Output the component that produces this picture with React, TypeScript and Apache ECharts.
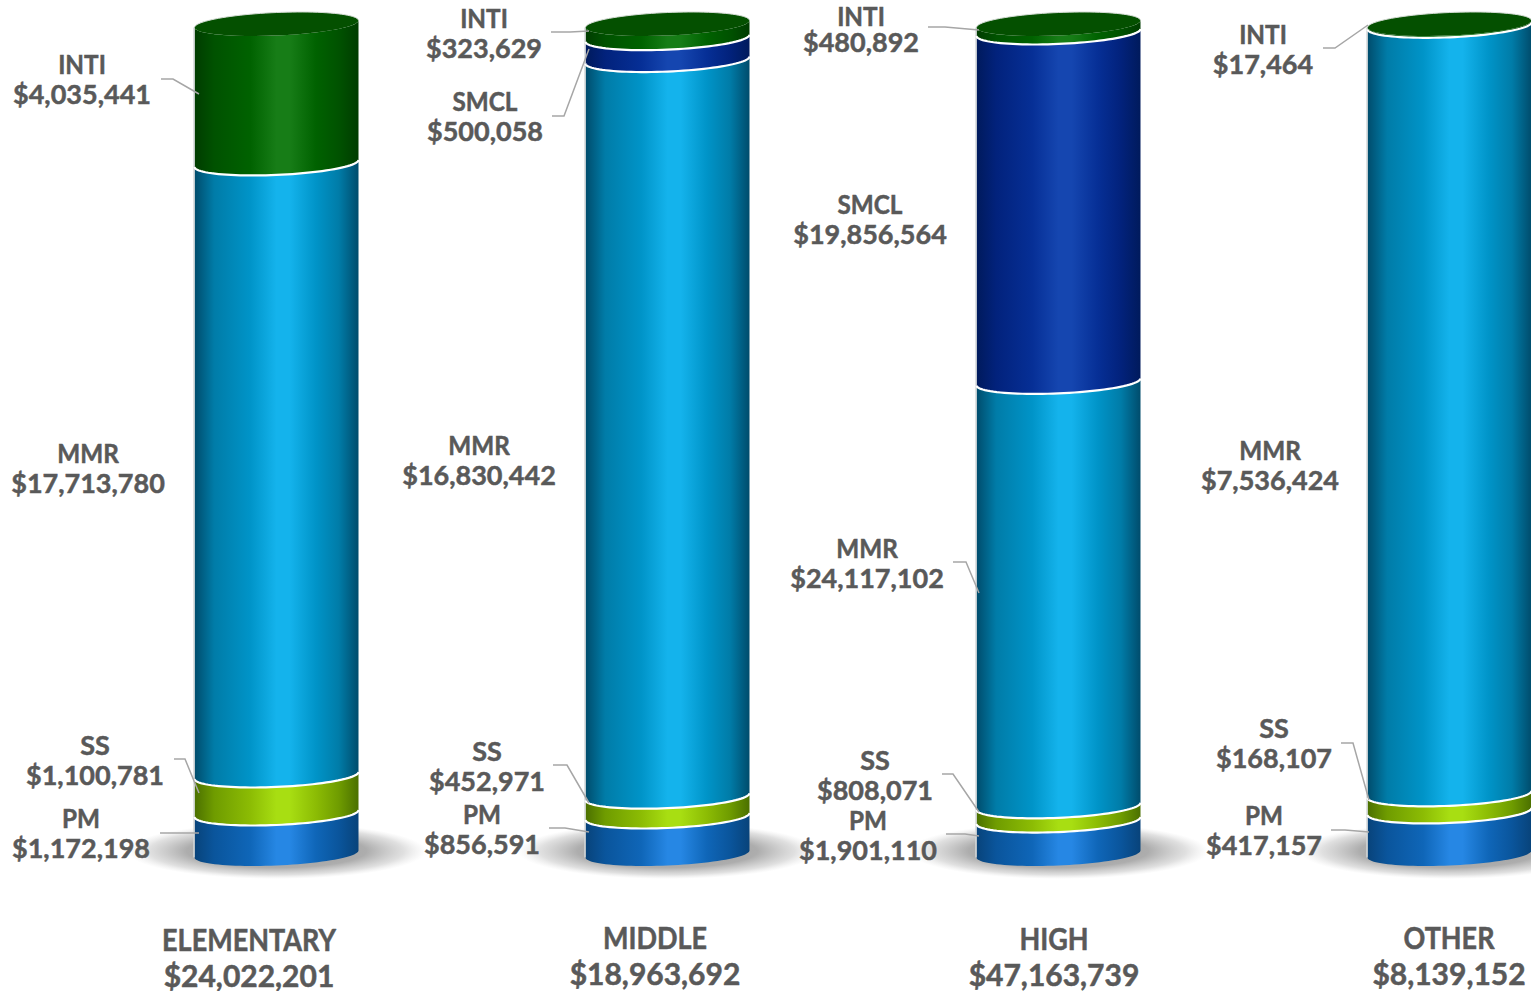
import React, { useEffect, useRef } from "react";
import * as echarts from "echarts";

const categories = ["ELEMENTARY", "MIDDLE", "HIGH", "OTHER"];
const categoryTotals = [24022201, 18963692, 47163739, 8139152];
const stackNames = ["PM", "SS", "MMR", "SMCL", "INTI"];
const pmValues = [1172198, 856591, 1901110, 417157];
const ssValues = [1100781, 452971, 808071, 168107];
const mmrValues = [17713780, 16830442, 24117102, 7536424];
const smclValues = [0, 500058, 19856564, 0];
const intiValues = [4035441, 323629, 480892, 17464];
const stackValues = [pmValues, ssValues, mmrValues, smclValues, intiValues];

// Layout only (no data below)
const W = 1531, H = 991;
const HALF_W = 82, RIM_B = 11.5, RIM_TILT = 3.5;
const FONT = 'Lato, "Liberation Sans", Arial, sans-serif';
const TEXT_COLOR = "#595959";
const LEADER_COLOR = "#a6a6a6";
const PALETTE = [
  ["#08437a", "#0a559c", "#0f66b8", "#2687e4"],
  ["#4b7000", "#6f9c00", "#8cbc04", "#a8de12"],
  ["#004c6c", "#007ca8", "#0094c8", "#14b3ec"],
  ["#001a5c", "#02227c", "#062f96", "#1546b0"],
  ["#003c00", "#005200", "#006200", "#177d17"],
];
type Lab = { c: number; s: number; x: number; y: number; ny?: number; lead?: number[][] };
const labelLayout: Lab[] = [
  { c: 0, s: 4, x: 82, y: 79, lead: [[161, 79], [173, 79], [199, 94]] },
  { c: 0, s: 2, x: 88, y: 468 },
  { c: 0, s: 1, x: 95, y: 760, lead: [[174, 759], [185, 759], [199, 793]] },
  { c: 0, s: 0, x: 81, y: 833, lead: [[160, 833], [199, 833]] },
  { c: 1, s: 4, x: 484, y: 33, lead: [[551, 32], [570, 32], [589, 31]] },
  { c: 1, s: 3, x: 485, y: 116, lead: [[552, 116], [564, 116], [589, 49]] },
  { c: 1, s: 2, x: 479, y: 460 },
  { c: 1, s: 1, x: 487, y: 766, lead: [[553, 765], [567, 765], [589, 803]] },
  { c: 1, s: 0, x: 482, y: 829, lead: [[549, 828], [565, 828], [589, 832]] },
  { c: 2, s: 4, x: 861, y: 27, ny: 15, lead: [[928, 27], [945, 27], [979, 30]] },
  { c: 2, s: 3, x: 870, y: 219 },
  { c: 2, s: 2, x: 867, y: 563, lead: [[953, 562], [966, 562], [979, 593]] },
  { c: 2, s: 1, x: 875, y: 775, lead: [[942, 774], [953, 774], [979, 812]] },
  { c: 2, s: 0, x: 868, y: 835, lead: [[946, 834], [965, 834], [979, 836]] },
  { c: 3, s: 4, x: 1263, y: 49, lead: [[1323, 48], [1335, 48], [1368, 25]] },
  { c: 3, s: 2, x: 1270, y: 465 },
  { c: 3, s: 1, x: 1274, y: 743, lead: [[1341, 743], [1353, 743], [1369, 800]] },
  { c: 3, s: 0, x: 1264, y: 830, lead: [[1331, 830], [1345, 830], [1369, 832]] },
];
const totalLayout = [
  { x: 249, y: 957 },
  { x: 655, y: 955 },
  { x: 1054, y: 956 },
  { x: 1449, y: 955 },
];

const money = (v: number) => "$" + v.toLocaleString("en-US");
const sumTo = (c: number, s: number) => {
  let t = 0;
  for (let i = 0; i < s; i++) t += stackValues[i][c];
  return t;
};
const sumAll = (c: number) => sumTo(c, stackValues.length);
const topStack = (c: number) => {
  let top = 0;
  stackValues.forEach((v, i) => { if (v[c] > 0) top = i; });
  return top;
};

const rim = (cx: number, cy: number, from: number, to: number) => {
  const pts: number[][] = [];
  const n = 48;
  for (let i = 0; i <= n; i++) {
    const t = from + ((to - from) * i) / n;
    pts.push([cx + HALF_W * Math.cos(t), cy + RIM_B * Math.sin(t) - RIM_TILT * Math.cos(t)]);
  }
  return pts;
};
const toPath = (pts: number[][], move = true) =>
  pts.map((p, i) => (i === 0 && move ? "M" : "L") + p[0].toFixed(2) + " " + p[1].toFixed(2)).join(" ");

const sideGradient = (s: number) => {
  const [dark, low, mid, light] = PALETTE[s];
  return {
    type: "linear", x: 0, y: 0, x2: 1, y2: 0,
    colorStops: [
      { offset: 0, color: dark },
      { offset: 0.12, color: low },
      { offset: 0.34, color: mid },
      { offset: 0.5, color: light },
      { offset: 0.58, color: light },
      { offset: 0.74, color: mid },
      { offset: 0.88, color: low },
      { offset: 1, color: dark },
    ],
  };
};

const segmentSeries = (s: number) => ({
  type: "custom",
  name: stackNames[s],
  coordinateSystem: "cartesian2d",
  data: stackValues[s].map((v, c) => [c, v]).filter((d) => d[1] > 0),
  silent: true,
  renderItem: (_: any, api: any) => {
    const c = api.value(0);
    const v = api.value(1);
    const total = sumAll(c);
    const base = sumTo(c, s);
    const [cx, y0] = api.coord([c, (base / total) * 100]);
    const [, y1] = api.coord([c, ((base + v) / total) * 100]);
    const lower = rim(cx, y0, Math.PI, 0);
    const upper = rim(cx, y1, 0, Math.PI);
    const children: any[] = [
      {
        type: "path",
        shape: { pathData: toPath(lower) + " " + toPath(upper, false) + " Z" },
        style: { fill: sideGradient(s) },
      },
      {
        type: "line",
        shape: { x1: cx - HALF_W - 0.5, y1: y0 + RIM_TILT, x2: cx - HALF_W - 0.5, y2: y1 + RIM_TILT },
        style: { stroke: "#d4d8da", lineWidth: 1.5 },
      },
    ];
    if (base > 0) {
      children.push({
        type: "path",
        shape: { pathData: toPath(lower) },
        style: { fill: "none", stroke: "#ffffff", lineWidth: 2.2 },
      });
    }
    if (s === topStack(c)) {
      children.push({
        type: "path",
        shape: { pathData: toPath(rim(cx, y1, 0, 2 * Math.PI)) + " Z" },
        style: { fill: "#045000" },
      });
      children.push({
        type: "path",
        shape: { pathData: toPath(rim(cx, y1, Math.PI, 2 * Math.PI)) },
        style: { fill: "none", stroke: "#d5dcd5", lineWidth: 1 },
      });
    }
    return { type: "group", children };
  },
});

const shadowSeries = {
  type: "custom",
  name: "shadow",
  coordinateSystem: "cartesian2d",
  silent: true,
  data: categories.map((_, c) => [c, 0]),
  renderItem: (_: any, api: any) => {
    const [cx, y] = api.coord([api.value(0), 0]);
    return {
      type: "ellipse",
      shape: { cx, cy: y - 3, rx: 150, ry: 28 },
      style: {
        fill: {
          type: "radial", x: 0.5, y: 0.5, r: 0.5,
          colorStops: [
            { offset: 0, color: "rgba(40,40,40,0.5)" },
            { offset: 0.6, color: "rgba(60,60,60,0.42)" },
            { offset: 0.85, color: "rgba(100,100,100,0.2)" },
            { offset: 1, color: "rgba(160,160,160,0)" },
          ],
        },
      },
    };
  },
};

const textLine = (text: string, x: number, y: number, size: number, sx = 1) => ({
  type: "text",
  x, y,
  scaleX: sx,
  style: {
    text, x: 0, y: 0,
    align: "center", verticalAlign: "middle",
    fill: TEXT_COLOR, font: `bold ${size}px ${FONT}`, lineHeight: 22,
    stroke: TEXT_COLOR, lineWidth: 0.5,
  },
});
const nameScale = (name: string) => (name === "SS" ? 1 : 0.9);

const labelSeries = {
  type: "custom",
  name: "labels",
  coordinateSystem: "cartesian2d",
  silent: true,
  data: labelLayout.map((_, i) => [0, 0, i]),
  renderItem: (_: any, api: any) => {
    const l = labelLayout[api.value(2)];
    const name = stackNames[l.s];
    const children: any[] = [
      textLine(name, l.x, l.ny ?? l.y - 15.5, 27, nameScale(name)),
      textLine(money(stackValues[l.s][l.c]), l.x, l.y + 14.5, 27),
    ];
    if (l.lead) {
      children.push({
        type: "polyline",
        shape: { points: l.lead },
        style: { fill: "none", stroke: LEADER_COLOR, lineWidth: 1.5 },
      });
    }
    return { type: "group", children };
  },
};

const totalSeries = {
  type: "custom",
  name: "totals",
  coordinateSystem: "cartesian2d",
  silent: true,
  data: categories.map((_, c) => [c, 0]),
  renderItem: (_: any, api: any) => {
    const c = api.value(0);
    const t = totalLayout[c];
    return {
      type: "group",
      children: [
        textLine(categories[c], t.x, t.y - 17.5, 30, 0.9),
        textLine(money(categoryTotals[c]), t.x, t.y + 17.5, 30),
      ],
    };
  },
};

export default function App() {
  const ref = useRef<HTMLDivElement>(null);
  useEffect(() => {
    document.body.style.margin = "0";
    document.body.style.background = "#ffffff";
    const chart = echarts.init(ref.current!, null, { renderer: "svg" });
    chart.setOption({
      animation: false,
      backgroundColor: "#ffffff",
      tooltip: { show: false },
      grid: { left: 276.5, width: 1173, top: 24, height: 830 },
      xAxis: { type: "category", data: categories, boundaryGap: false, show: false },
      yAxis: { type: "value", min: 0, max: 100, show: false },
      series: [shadowSeries, ...stackNames.map((_, s) => segmentSeries(s)), labelSeries, totalSeries],
    });
    return () => chart.dispose();
  }, []);
  return <div ref={ref} style={{ width: W, height: H, overflow: "hidden" }} />;
}
